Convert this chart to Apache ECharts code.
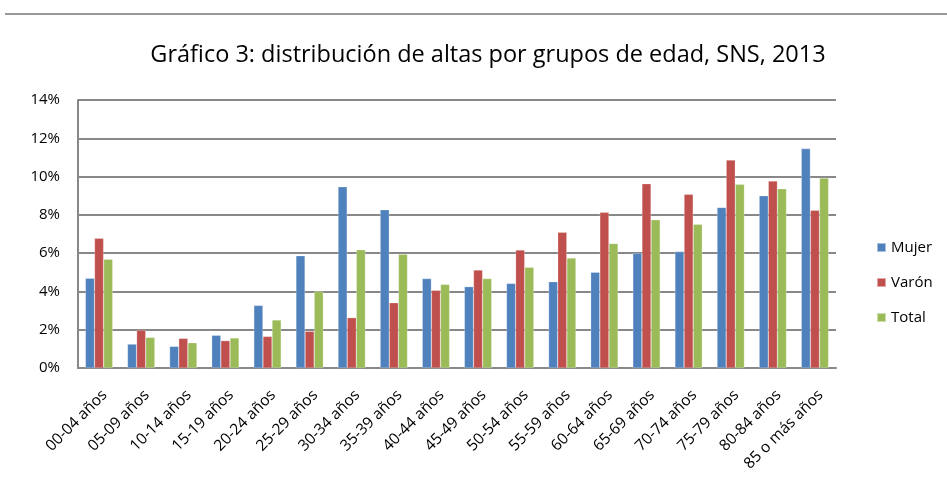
<!DOCTYPE html>
<html>
<head>
<meta charset="utf-8">
<script src="https://cdn.jsdelivr.net/npm/echarts@6/dist/echarts.min.js"></script>
<style>
  html, body { margin: 0; padding: 0; background: #fff; }
  #chart { width: 947px; height: 484px; }
</style>
</head>
<body>
<div id="chart"></div>
<script>
// grupos de edad
const ageGroups = ['00-04 años', '05-09 años', '10-14 años', '15-19 años', '20-24 años', '25-29 años',
  '30-34 años', '35-39 años', '40-44 años', '45-49 años', '50-54 años', '55-59 años',
  '60-64 años', '65-69 años', '70-74 años', '75-79 años', '80-84 años', '85 o más años'];

// % de altas
const mujer = [4.69, 1.25, 1.13, 1.71, 3.27, 5.87, 9.47, 8.27, 4.67, 4.25, 4.42, 4.51, 5.0, 5.99, 6.08, 8.39, 9.0, 11.46];
const varon = [6.78, 1.98, 1.55, 1.43, 1.65, 1.92, 2.63, 3.41, 4.06, 5.12, 6.17, 7.09, 8.13, 9.63, 9.07, 10.87, 9.77, 8.24];
const total = [5.68, 1.6, 1.32, 1.57, 2.51, 4.0, 6.18, 5.94, 4.37, 4.67, 5.26, 5.75, 6.5, 7.75, 7.51, 9.6, 9.37, 9.93];

const seriesNames = ['Mujer', 'Varón', 'Total'];
const colors = ['#4F81BD', '#C0504D', '#9BBB59'];
const FONT = 'Open Sans';

const chart = echarts.init(document.getElementById('chart'));

const mkBar = (name, data, color) => ({
  name: name,
  type: 'bar',
  data: data,
  barGap: '0%',
  barCategoryGap: '35%',
  itemStyle: { color: color, borderColor: 'rgba(255,255,255,0.5)', borderWidth: 0.5 },
  animation: false
});

chart.setOption({
  textStyle: { fontFamily: FONT },
  title: {
    text: 'Gráfico 3: distribución de altas por grupos de edad, SNS, 2013',
    left: 483,
    textAlign: 'center',
    top: 38,
    textStyle: { fontFamily: FONT, fontSize: 23.5, fontWeight: 'normal', color: '#000' }
  },
  graphic: [{
    type: 'line',
    shape: { x1: 5, y1: 14, x2: 947, y2: 14 },
    style: { stroke: '#999', lineWidth: 2 }
  }],
  legend: {
    orient: 'vertical',
    left: 871,
    top: 235,
    itemGap: 20,
    itemWidth: 9,
    itemHeight: 9,
    icon: 'rect',
    data: seriesNames,
    textStyle: { fontFamily: FONT, fontSize: 15, color: '#000' }
  },
  grid: { left: 78, right: 111, top: 100, bottom: 116, containLabel: false },
  xAxis: {
    type: 'category',
    data: ageGroups,
    axisLine: { lineStyle: { color: '#888', width: 2 } },
    axisTick: { show: false },
    axisLabel: {
      rotate: 45, interval: 0, fontSize: 15.5, color: '#000', margin: 19,
      verticalAlign: 'top', fontFamily: FONT
    }
  },
  yAxis: {
    type: 'value',
    min: 0,
    max: 14,
    interval: 2,
    axisLine: { show: true, lineStyle: { color: '#888', width: 2 } },
    axisTick: { show: false },
    splitLine: { lineStyle: { color: '#888', width: 2 } },
    axisLabel: { formatter: '{value}%', fontSize: 15, color: '#000', margin: 18, fontFamily: FONT }
  },
  series: [
    mkBar(seriesNames[0], mujer, colors[0]),
    mkBar(seriesNames[1], varon, colors[1]),
    mkBar(seriesNames[2], total, colors[2])
  ]
});
</script>
</body>
</html>
